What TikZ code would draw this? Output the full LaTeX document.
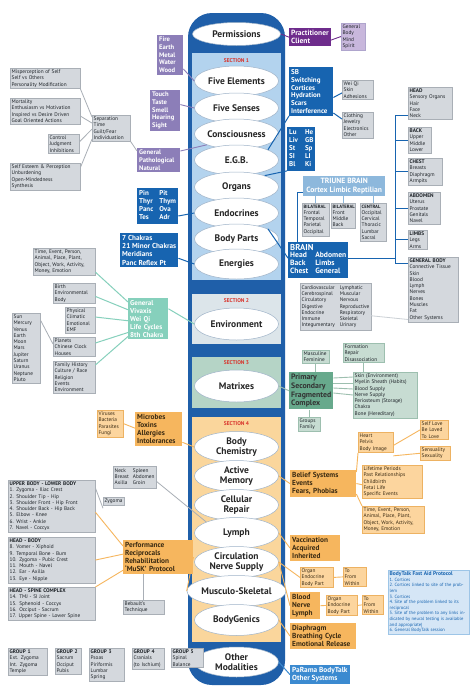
\documentclass[tikz,border=0pt]{standalone}
\usepackage{fontspec}
\setmainfont{PT Sans}
\usetikzlibrary{shapes.geometric,calc}
\definecolor{colblue}{HTML}{1F5FA9}
\definecolor{sec1}{HTML}{B3D3EE}
\definecolor{sec2}{HTML}{DCE5EA}
\definecolor{sec3}{HTML}{B5D4C6}
\definecolor{sec4}{HTML}{FAD69C}
\definecolor{elledge}{HTML}{9FB3C8}
\definecolor{secred}{HTML}{D8342C}
\definecolor{dblue}{HTML}{1764B0}
\definecolor{gfill}{HTML}{D4D8DD}
\definecolor{gedge}{HTML}{A9AFB6}
\definecolor{gtext}{HTML}{1E2328}
\definecolor{purp}{HTML}{8C7EB8}
\definecolor{dpurp}{HTML}{6E2C8C}
\definecolor{lpurp}{HTML}{C8B7DC}
\definecolor{teal}{HTML}{86D0BC}
\definecolor{tri}{HTML}{8DB8DC}
\definecolor{grn}{HTML}{67A98C}
\definecolor{g3fill}{HTML}{C7DCD2}
\definecolor{g3edge}{HTML}{9DBFAF}
\definecolor{orng}{HTML}{F6B65E}
\definecolor{lorng}{HTML}{FCD59E}
\definecolor{oedge}{HTML}{EDB262}
\definecolor{otext}{HTML}{3A2A12}
\definecolor{lblue}{HTML}{D5E6F6}
\definecolor{mblue}{HTML}{3B8AD0}
\begin{document}
\begin{tikzpicture}[x=1pt,y=-1pt,
 box/.style={anchor=north west, inner sep=1.5pt, align=left, font=\fontsize{5.3}{6.3}\selectfont},
 gbox/.style={box, fill=gfill, draw=gedge, line width=0.4pt, text=gtext},
 g3box/.style={box, fill=g3fill, draw=g3edge, line width=0.4pt, text=gtext},
 lobox/.style={box, fill=lorng, draw=oedge, line width=0.4pt, text=otext},
 bbox/.style={box, fill=dblue, text=white, inner sep=2pt, font=\fontsize{7}{7.9}\selectfont\bfseries},
 pbox/.style={box, fill=purp, text=white, inner sep=2pt, font=\fontsize{6.6}{7.7}\selectfont\bfseries},
 ppbox/.style={box, fill=dpurp, text=white, inner sep=2pt, font=\fontsize{7.5}{8.4}\selectfont\bfseries},
 lpbox/.style={box, fill=lpurp, draw=purp!70, line width=0.3pt, text=gtext},
 tbox/.style={box, fill=teal, text=white, inner sep=2pt, font=\fontsize{7}{8}\selectfont\bfseries},
 grbox/.style={box, fill=grn, text=black!80, inner sep=2pt, font=\fontsize{7.8}{8.7}\selectfont\bfseries},
 obox/.style={box, fill=orng, text=otext, inner sep=2pt, font=\fontsize{7.3}{8.2}\selectfont\bfseries},
 ell/.style={ellipse, draw=elledge, line width=0.5pt, fill=white, minimum width=84pt, minimum height=30pt, inner sep=0pt, align=center, font=\fontsize{9.5}{10.5}\selectfont\bfseries, text=black!85},
 sect/.style={font=\fontsize{5.5}{6}\selectfont\bfseries, text=secred, inner sep=0pt},
 gline/.style={draw=gedge, line width=0.8pt},
 bline/.style={draw=dblue, line width=1pt},
 pline/.style={draw=purp, line width=0.9pt},
 ppline/.style={draw=dpurp, line width=0.9pt},
 tline/.style={draw=teal, line width=1pt},
 g3line/.style={draw=g3edge, line width=0.9pt},
 oline/.style={draw=orng, line width=0.9pt},
 lbline/.style={draw=tri, line width=0.9pt}
]
\useasboundingbox (0,0) rectangle (474,686);
\fill[white] (0,0) rectangle (474,686);

% central column
\fill[colblue, rounded corners=24pt] (188,13) rectangle (285,685);
\fill[sec1] (192,53) rectangle (281,280);
\fill[sec2] (192,294) rectangle (281,344);
\fill[sec3] (192,357) rectangle (281,408);
\fill[sec4] (192,417) rectangle (281,642);

\node[ell, minimum width=88pt, minimum height=23pt] (perm) at (236.5,34) {Permissions};
\node[sect] (s1) at (236.5,61) {SECTION 1};
\node[ell] (fe) at (236.5,81) {Five Elements};
\node[ell] (fs) at (236.5,108) {Five Senses};
\node[ell] (con) at (236.5,134) {Consciousness};
\node[ell] (egb) at (236.5,160) {E.G.B.};
\node[ell] (orgs) at (236.5,187) {Organs};
\node[ell] (endoc) at (236.5,213) {Endocrines};
\node[ell] (bp) at (236.5,239) {Body Parts};
\node[ell] (en) at (236.5,264) {Energies};
\node[sect] (s2) at (236.5,301) {SECTION 2};
\node[ell, minimum height=32pt] (env) at (236.5,324) {Environment};
\node[sect] (s3) at (236.5,363) {SECTION 3};
\node[ell, minimum height=32pt] (mat) at (236.5,386) {Matrixes};
\node[sect] (s4) at (236.5,424) {SECTION 4};
\node[ell, minimum height=31pt] (bc) at (236.5,447) {Body\\[-1pt]Chemistry};
\node[ell, minimum height=31pt] (am) at (236.5,476) {Active\\[-1pt]Memory};
\node[ell, minimum height=31pt] (cr) at (236.5,505) {Cellular\\[-1pt]Repair};
\node[ell, minimum height=31pt] (ly) at (236.5,533) {Lymph};
\node[ell, minimum height=31pt] (cns) at (236.5,562) {Circulation\\[-1pt]Nerve Supply};
\node[ell, minimum height=31pt] (ms) at (236.5,591) {Musculo-Skeletal};
\node[ell, minimum height=31pt] (bg) at (236.5,620) {BodyGenics};
\node[ell, minimum height=30pt] (om) at (236.5,662) {Other\\[-1pt]Modalities};

% ---------- Section 1 left
\node[gbox, text width=67pt] (mis) at (10,68) {Misperception of Self\\Self vs Others\\Personality Modification};
\node[gbox, text width=67pt] (mort) at (10,98) {Mortality\\Enthusiasm vs Motivation\\Inspired vs Desire Driven\\Goal Oriented Actions};
\node[gbox, text width=28pt] (ctrl) at (48,134) {Control\\Judgment\\Inhibitions};
\node[gbox, text width=67pt] (selfe) at (10,163) {Self Esteem \& Perception\\Unburdening\\Open-Mindedness\\Synthesis};
\node[gbox, text width=35pt] (sep) at (92,115) {Separation\\Time\\Guilt/Fear\\Individuation};
\draw[gline] (mis.south east) -- ([yshift=-2pt]sep.north west);
\draw[gline] ([yshift=-5pt]mort.east) -- ([yshift=5pt]sep.west);
\draw[gline] ([yshift=2pt]ctrl.east) -- ([yshift=-1pt]sep.west);
\draw[gline] ([yshift=9pt]selfe.east) -- ([yshift=2pt]sep.south west);

\node[pbox, text width=22pt] (fire) at (157,35) {Fire\\Earth\\Metal\\Water\\Wood};
\node[pbox, text width=26pt] (touch) at (150,90) {Touch\\Taste\\Smell\\Hearing\\Sight};
\node[pbox, text width=39pt] (gen) at (137,148) {General\\Pathological\\Natural};
\draw[pline] ([yshift=6pt]fire.south east) -- (fe.west);
\draw[pline] ([yshift=6pt]touch.east) -- (fs.west);
\draw[pline] ([yshift=-3pt]gen.north east) -- (con.200);
\draw[gline] (sep.south east) -- ([yshift=-3pt]gen.north west);

\node[bbox] (endo) at (137,188) {\begin{tabular}{@{}l@{\hspace{6pt}}l@{}}Pin&Pit\\Thyr&Thym\\Panc&Ova\\Tes&Adr\end{tabular}};
\draw[bline] ([yshift=-10pt]endo.east) -- (endoc.west);
\node[bbox, font=\fontsize{7.2}{8.3}\selectfont\bfseries] (chak) at (120,233) {7 Chakras\\21 Minor Chakras\\Meridians\\Panc Reflex Pt};
\draw[bline] ([yshift=-8pt]chak.east) -- (en.west);

% ---------- Section 1 right
\node[ppbox] (prac) at (289,28) {Practitioner\\Client};
\node[lpbox, text width=21pt] (gbms) at (341,23) {General\\Body\\Mind\\Spirit};
\draw[ppline] (perm.east) -- (prac.west);
\draw[ppline] ([yshift=-3pt]prac.east) -- (gbms.west);

\node[bbox, text width=40pt] (sb) at (289,67) {SB\\Switching\\Cortices\\Hydration\\Scars\\Interference};
\node[gbox, text width=28pt] (wei) at (342,80) {Wei Qi\\Skin\\Adhesions};
\node[gbox, text width=28pt] (cloth) at (342,112) {Clothing\\Jewelry\\Electronics\\Other};
\draw[bline] ([yshift=-6pt]sb.east) -- ([yshift=-3pt]wei.west);
\draw[bline] ([yshift=3pt]sb.south east) -- ([yshift=6pt]cloth.west);
\draw[bline] (sb.south west) -- (egb.18);

\node[bbox] (org) at (287,127) {\begin{tabular}{@{}l@{\hspace{7pt}}l@{}}Lu&He\\Liv&GB\\St&Sp\\SI&LI\\Bl&Ki\end{tabular}};
\draw[bline] (org.south west) -- (orgs.22);

\node[box, fill=tri, text=white, minimum width=82pt, align=center, inner sep=2pt, font=\fontsize{7.6}{9}\selectfont\bfseries] (tri) at (303,176) {TRIUNE BRAIN\\Cortex Limbic Reptilian};
\node[gbox, text width=24pt] (bil1) at (302,203) {{\bfseries\fontsize{4.7}{6.3}\selectfont BILATERAL}\\Frontal\\Temporal\\Parietal\\Occipital};
\node[gbox, text width=21pt] (bil2) at (331,203) {{\bfseries\fontsize{4.7}{6.3}\selectfont BILATERAL}\\Front\\Middle\\Back};
\node[gbox, text width=23pt] (cen) at (360,203) {{\bfseries\fontsize{4.7}{6.3}\selectfont CENTRAL}\\Occipital\\Cervical\\Thoracic\\Lumbar\\Sacral};
\draw[lbline] (bil1.north) -- (bil1.north |- tri.south);
\draw[lbline] (bil2.north) -- (bil2.north |- tri.south);
\draw[lbline] (cen.north) -- (cen.north |- tri.south);

\node[bbox, inner sep=2pt, font=\fontsize{7.6}{8.2}\selectfont\bfseries] (brain) at (288,242) {{\fontsize{8.6}{9.4}\selectfont BRAIN}\\\begin{tabular}{@{}l@{\hspace{7pt}}l@{}}Head&Abdomen\\Back&Limbs\\Chest&General\end{tabular}};
\draw[bline] ([xshift=9pt]brain.north west) |- ($(tri.south west)+(0,-4)$);
\draw[bline] (bp.18) -- ([yshift=2pt]brain.west);

\node[gbox, text width=41pt] (head) at (408,87) {\textbf{HEAD}\\Sensory Organs\\Hair\\Face\\Neck};
\node[gbox, text width=20pt] (back) at (408,127) {\textbf{BACK}\\Upper\\Middle\\Lower};
\node[gbox, text width=31pt] (chest) at (408,158) {\textbf{CHEST}\\Breasts\\Diaphragm\\Armpits};
\node[gbox, text width=29pt] (abd) at (408,192) {\textbf{ABDOMEN}\\Uterus\\Prostate\\Genitals\\Navel};
\node[gbox, text width=16pt] (limbs) at (408,230) {\textbf{LIMBS}\\Legs\\Arms};
\node[gbox, text width=47pt] (gbody) at (408,257) {\textbf{GENERAL BODY}\\Connective Tissue\\Skin\\Blood\\Lymph\\Nerves\\Bones\\Muscles\\Fat\\Other Systems};
\coordinate (bt) at (395,115);
\coordinate (bb) at (395,263);
\draw[bline] (bt -| head.west) -- (bt) -- (bb) -- (bb -| gbody.west);
\draw[bline] (back.west -| bt) -- (back.west);
\draw[bline] (chest.west -| bt) -- (chest.west);
\draw[bline] (abd.west -| bt) -- (abd.west);
\draw[bline] (limbs.west -| bt) -- (limbs.west);
\draw[bline] ([yshift=2pt]brain.east) -- ([yshift=2pt]brain.east -| bt);

\node[gbox] (cardio) at (300,283) {\begin{tabular}{@{}l@{\hspace{5pt}}l@{}}Cardiovascular&Lymphatic\\Cerebrospinal&Muscular\\Circulatory&Nervous\\Digestive&Reproductive\\Endocrine&Respiratory\\Immune&Skeletal\\Integumentary&Urinary\end{tabular}};
\draw[gline, draw=gfill!80!gedge] ([yshift=-9pt]cardio.east) -- ([yshift=-30pt]gbody.west);

% ---------- Section 2
\node[gbox, text width=59pt] (tep) at (33,248) {Time, Event, Person,\\Animal, Place, Plant,\\Object, Work, Activity,\\Money, Emotion};
\node[gbox, text width=39pt] (birth) at (53,283) {Birth\\Environmental\\Body};
\node[gbox, text width=27pt] (phys) at (65,307) {Physical\\Climatic\\Emotional\\EMF};
\node[gbox, text width=25pt] (sun) at (12,313) {Sun\\Mercury\\Venus\\Earth\\Moon\\Mars\\Jupiter\\Saturn\\Uranus\\Neptune\\Pluto};
\node[gbox, text width=39pt] (plan) at (53,337) {Planets\\Chinese Clock\\Houses};
\node[gbox, text width=39pt] (fam) at (53,361) {Family History\\Culture / Race\\Religion\\Events\\Environment};
\node[tbox, text width=36pt] (viv) at (128,298) {General\\Vivaxis\\Wei Qi\\Life Cycles\\8th Chakra};
\draw[gline] ([yshift=-7pt]sun.north east) -- ([yshift=-7pt]plan.north west);
\draw[tline] ([yshift=3pt]tep.south east) -- ([yshift=-4pt]viv.north west);
\draw[tline] ([yshift=-3pt]birth.east) -- ([yshift=9pt]viv.west);
\draw[tline] ([yshift=3pt]phys.east) -- ([yshift=-2pt]viv.west);
\draw[tline] ([yshift=-6pt]plan.north east) -- ([yshift=7pt]viv.south west);
\draw[tline] ([yshift=-4pt]fam.north east) -- ([yshift=3pt]viv.south west);
\draw[tline] ([yshift=10pt]viv.east) -- (env.west);

% ---------- Section 3
\node[g3box, text width=24pt] (masc) at (302,350) {Masculine\\Feminine};
\node[g3box, text width=38pt] (form) at (343,343) {Formation\\Repair\\Disassociation};
\node[grbox, text width=40pt] (prim) at (289,372) {Primary\\Secondary\\Fragmented\\Complex};
\node[g3box, text width=61pt] (skin) at (353,372) {Skin (Environment)\\Myelin Sheath (Habits)\\Blood Supply\\Nerve Supply\\Periosteum (Storage)\\Chakra\\Bone (Hereditary)};
\node[g3box, text width=19pt] (grp) at (298,417) {Groups\\Family};
\draw[g3line] (mat.east) -- (prim.west);
\draw[g3line] (masc.south) -- (masc.south |- prim.north);
\draw[g3line] (form.south) -- (form.south |- skin.north);
\draw[g3line] (grp.north) -- (grp.north |- prim.south);
\draw[g3line] ([yshift=-6pt]prim.north east) -- ([yshift=-5pt]skin.north west);
\draw[g3line] ([yshift=-11pt]prim.north east) -- ([yshift=-11pt]skin.north west);
\draw[g3line] ([yshift=-16pt]prim.north east) -- ([yshift=-17pt]skin.north west);
\draw[g3line] ([yshift=-21pt]prim.north east) -- ([yshift=-23pt]skin.north west);

% ---------- Section 4 left
\node[lobox, text width=23pt] (vir) at (97,410) {Viruses\\Bacteria\\Parasites\\Fungi};
\node[obox, text width=43pt] (mic) at (135,412) {Microbes\\Toxins\\Allergies\\Intolerances};
\draw[oline] (vir.east) -- ([yshift=1pt]mic.west);
\draw[oline] ([yshift=4pt]mic.south east) -- (bc.west);

\node[gbox] (nsa) at (113,466) {\begin{tabular}{@{}l@{\hspace{4pt}}l@{}}Neck&Spleen\\Breast&Abdomen\\Axilla&Groin\end{tabular}};
\node[gbox] (zyg) at (103,497) {Zygoma};
\draw[gline] ([yshift=-4pt]nsa.east) -- (ly.160);
\node[gbox, text width=84pt] (ulb) at (8,480) {\textbf{UPPER BODY - LOWER BODY}\\1. Zygoma - Iliac Crest\\2. Shoulder Tip - Hip\\3. Shoulder Front - Hip Front\\4. Shoulder Back - Hip Back\\5. Elbow - Knee\\6. Wrist - Ankle\\7. Navel - Coccyx};
\node[gbox, text width=84pt] (hb) at (8,537) {\textbf{HEAD - BODY}\\8. Vomer - Xiphoid\\9. Temporal Bone - Bum\\10. Zygoma - Pubic Crest\\11. Mouth - Navel\\12. Ear - Axilla\\13. Eye - Nipple};
\node[gbox, text width=84pt] (hs) at (8,587) {\textbf{HEAD - SPINE COMPLEX}\\14. TMJ - SI Joint\\15. Sphenoid - Coccyx\\16. Occiput - Sacrum\\17. Upper Spine - Lower Spine};
\node[obox, text width=66pt] (perf) at (123,540) {Performance\\Reciprocals\\Rehabilitation\\`MuSK' Protocol};
\node[gbox, text width=38pt] (beb) at (123,600) {Bebault's\\Technique};
\draw[gline] ([yshift=-3pt]zyg.south west) -- ([yshift=-8pt]ulb.north east);
\draw[oline] ([yshift=-6pt]ulb.east) -- ([yshift=-6pt]perf.north west);
\draw[oline] (hb.east) -- ([yshift=3pt]perf.west);
\draw[oline] (hs.north east) -- ([yshift=4pt]perf.south west);
\draw[oline] (perf.east) -- (ms.west);
\draw[gline] (beb.north) -- (beb.north |- perf.south);

\node[gbox, text width=36pt] (g1) at (8,648) {\textbf{GROUP 1}\\Ext. Zygoma\\Int. Zygoma\\Temple};
\node[gbox, text width=23pt] (g2) at (55,648) {\textbf{GROUP 2}\\Sacrum\\Occiput\\Pubis};
\node[gbox, text width=32pt] (g3) at (89,648) {\textbf{GROUP 3}\\Psoas\\Piriformis\\Lumbar Spring};
\node[gbox, text width=29pt] (g4) at (132,648) {\textbf{GROUP 4}\\Cranials\\(to Ischium)};
\node[gbox, text width=29pt] (g5) at (171,648) {\textbf{GROUP 5}\\Spinal\\Balance};

% ---------- Section 4 right
\node[lobox, text width=32pt] (heart) at (358,432) {Heart\\Pelvis\\Body Image};
\node[lobox, text width=25pt] (slove) at (420,420) {Self Love\\Be Loved\\To Love};
\node[lobox, text width=27pt] (sens) at (420,446) {Sensuality\\Sexuality};
\draw[oline] ([yshift=-3pt]heart.east) -- (slove.west);
\draw[oline] ([yshift=-3pt]heart.south east) -- (sens.west);
\node[obox, text width=62pt] (belief) at (290,470) {Belief Systems\\Events\\Fears, Phobias};
\node[lobox, text width=57pt] (life) at (362,465) {Lifetime Periods\\Past Relationships\\Childbirth\\Fetal Life\\Specific Events};
\node[lobox, text width=59pt] (tep2) at (362,506) {Time, Event, Person,\\Animal, Place, Plant,\\Object, Work, Activity,\\Money, Emotion};
\draw[oline] (am.east) -- (belief.west);
\draw[oline] ([yshift=-2pt]belief.north east) -- (heart.south west);
\draw[oline] (belief.east) -- ([yshift=-3pt]life.west);
\draw[oline] ([yshift=3pt]belief.south east) -- (tep2.north west);

\node[obox, text width=46pt] (vacc) at (290,535) {Vaccination\\Acquired\\Inherited};
\draw[oline] (ly.east) -- (vacc.west);
\node[lobox, text width=30pt] (oeb1) at (300,567) {Organ\\Endocrine\\Body Part};
\node[lobox, text width=20pt] (tfw1) at (343,567) {To\\From\\Within};
\node[obox, text width=26pt] (bnl) at (290,592) {Blood\\Nerve\\Lymph};
\node[lobox, text width=28pt] (oeb2) at (326,595) {Organ\\Endocrine\\Body Part};
\node[lobox, text width=18pt] (tfw2) at (362,595) {To\\From\\Within};
\draw[oline] (cns.east) -- (oeb1.west);
\draw[oline] (cns.east) -- (bnl.west);
\draw[oline] (bnl.east) -- (oeb2.west);
\draw[oline] (oeb1.east) -- (tfw1.west);
\draw[oline] (oeb2.east) -- (tfw2.west);

\node[box, fill=lblue, draw=mblue!50, text=dblue, text width=78pt, font=\fontsize{4.6}{5.6}\selectfont] (fap) at (388,570) {{\fontsize{5.5}{7}\selectfont\bfseries BodyTalk Fast Aid Protocol}\\1.\ Cortices\\2.\ Cortices linked to site of the problem\\3.\ Cortices\\4.\ Site of the problem linked to its reciprocal\\5.\ Site of the problem to any links indicated by neural testing is available and appropriate)\\6.\ General BodyTalk session};

\node[obox, text width=62pt] (dia) at (290,623) {Diaphragm\\Breathing Cycle\\Emotional Release};
\draw[oline] (bg.east) -- (dia.west);
\node[box, fill=mblue, text=white, inner sep=2pt, font=\fontsize{7.3}{8.2}\selectfont\bfseries] (para) at (290,665) {PaRama BodyTalk\\Other Systems};
\draw[bline, draw=mblue] (om.east) -- (para.west);
\end{tikzpicture}
\end{document}
